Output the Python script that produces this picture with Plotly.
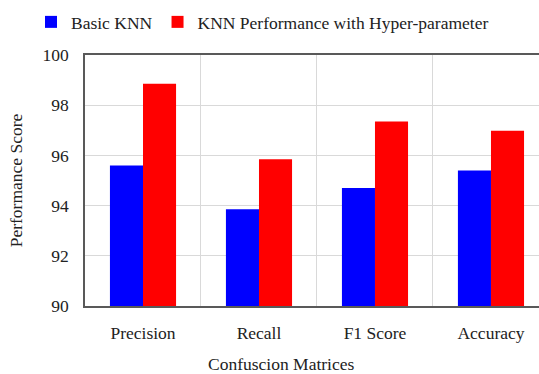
import plotly.graph_objects as go

categories = ["Precision", "Recall", "F1 Score", "Accuracy"]
basic_knn = [95.6, 93.85, 94.7, 95.4]
knn_hyper = [98.85, 95.85, 97.35, 96.98]
series_names = ["Basic KNN", "KNN Performance with Hyper-parameter"]
y_ticks = [90, 92, 94, 96, 98, 100]

FONT = "Liberation Serif"
TXT = "#222222"

fig = go.Figure()
fig.add_trace(go.Bar(x=categories, y=basic_knn, name=series_names[0],
                     marker=dict(color="#0000FF", line=dict(width=0))))
fig.add_trace(go.Bar(x=categories, y=knn_hyper, name=series_names[1],
                     marker=dict(color="#FF0000", line=dict(width=0))))

fig.update_layout(
    width=539, height=374,
    margin=dict(l=85, r=0, t=55, b=68),
    paper_bgcolor="white", plot_bgcolor="white",
    font=dict(family=FONT, size=17.5, color=TXT),
    barmode="group", bargap=0.43, bargroupgap=0,
    showlegend=True,
    legend=dict(orientation="h", xref="paper", yref="paper",
                x=(31-85)/454, xanchor="left", y=1 + (55-22)/251, yanchor="middle",
                font=dict(family=FONT, size=17.5, color=TXT),
                bgcolor="rgba(0,0,0,0)", itemclick=False),
    xaxis=dict(type="category", range=[-0.5, 3.414], showgrid=True,
               tickson="boundaries", gridcolor="#d9d9d9", gridwidth=1,
               showline=True, linecolor="#595959", linewidth=1.5, mirror=True,
               ticks="", ticklabelstandoff=10,
               tickfont=dict(family=FONT, size=17.5, color=TXT)),
    yaxis=dict(range=[90, 100], tickvals=y_ticks, showgrid=True,
               gridcolor="#d9d9d9", gridwidth=1,
               showline=True, linecolor="#595959", linewidth=1.5,
               ticks="", ticklabelstandoff=11, zeroline=False,
               tickfont=dict(family=FONT, size=17.5, color=TXT),
               title=dict(text="Performance Score", standoff=15,
                          font=dict(family=FONT, size=17.5, color=TXT))),
    annotations=[dict(text="Confuscion Matrices", xref="paper", yref="paper",
                      x=(281-85)/454, y=-(364-306)/251, xanchor="center",
                      yanchor="middle", showarrow=False,
                      font=dict(family=FONT, size=17.5, color=TXT))],
)

fig.write_html("out.html")
